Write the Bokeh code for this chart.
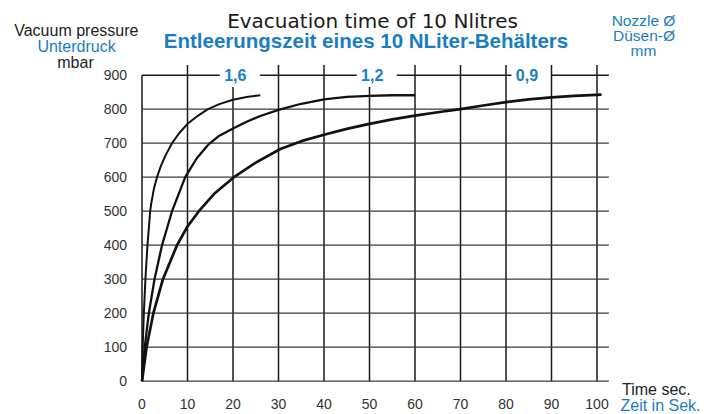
from bokeh.plotting import figure
from bokeh.models import LinearAxis, FixedTicker, Label
from bokeh.embed import file_html
from bokeh.resources import INLINE
from bokeh.core.properties import value

# ---------------- data ----------------
time_16 = [0, 0.15, 0.4, 0.75, 1.2, 1.8, 2.0, 2.6, 3.3, 4.2, 5.2, 6.6, 8.2, 10.0, 12.0, 14.5, 17.0, 20.0, 23.0, 26.0]
pres_16 = [0, 100, 200, 300, 400, 500, 520, 565, 600, 635, 665, 700, 730, 757, 778, 800, 815, 828, 836, 841]

time_12 = [0, 0.6, 1.5, 2.75, 4.4, 6.6, 9.5, 12.0, 14.5, 17.0, 20.0, 23.0, 26.0, 30.0, 35.0, 40.0, 45.0, 50.0, 55.0, 60.0]
pres_12 = [0, 100, 200, 300, 400, 500, 600, 655, 695, 722, 743, 763, 780, 798, 816, 829, 836, 839, 841, 841]

time_09 = [0, 1.0, 2.5, 4.6, 7.7, 10.0, 12.5, 16.0, 20.2, 25.0, 30.4, 35.0, 40.0, 45.0, 50.0, 55.0, 60.0,
           65.0, 70.0, 75.0, 80.0, 85.0, 90.0, 95.0, 101.0]
pres_09 = [0, 100, 200, 300, 400, 455, 500, 553, 600, 643, 683, 706, 725, 742, 757, 770, 781,
           791, 800, 811, 821, 829, 835, 839, 843]

nozzles = ["1,6", "1,2", "0,9"]
nozzle_label_x = [20.5, 50.6, 84.6]

x_ticks = [0, 10, 20, 30, 40, 50, 60, 70, 80, 90, 100]
y_ticks = [0, 100, 200, 300, 400, 500, 600, 700, 800, 900]

# ---------------- layout ----------------
W, H = 716, 414
CX0, SX = 141.5, 4.55     # canvas x of t=0, px per second
CY0, SY = 380.7, 0.34     # canvas y of p=0, px per mbar
x_start, x_end = -CX0 / SX, (W - CX0) / SX
y_start, y_end = -(H - CY0) / SY, CY0 / SY


def dx(cx):
    return (cx - CX0) / SX


def dy(cy):
    return (CY0 - cy) / SY


BLUE = "#1a7dc4"
DARK = "#222222"
FONT = "Liberation Sans"

p = figure(width=W, height=H, x_range=(x_start, x_end), y_range=(y_start, y_end),
           output_backend="svg", toolbar_location=None, tools="",
           x_axis_location=None, y_axis_location=None, min_border=0)
p.outline_line_color = None
p.background_fill_color = "white"
p.border_fill_color = "white"
p.grid.visible = False

# ---------------- grid ----------------
gap_l, gap_r = 3.4, 5.4
x_top = x_ticks[-1] + 2.6
y_top = y_ticks[-1] + 30
y_under = y_ticks[-1] - 35
vx = x_ticks[1:]
v_top = [y_under if any(nx - gap_l < v < nx + gap_r for nx in nozzle_label_x) else y_top for v in vx]
p.segment(x0=vx, y0=[y_ticks[0]] * len(vx), x1=vx, y1=v_top,
          line_color="#1a1a1a", line_width=1.5)
p.segment(x0=[x_ticks[0]], y0=[y_ticks[0]], x1=[x_ticks[0]], y1=[y_ticks[-1]],
          line_color="#1a1a1a", line_width=1.5)
hy = y_ticks[:-1]
p.segment(x0=[x_ticks[0]] * len(hy), y0=hy, x1=[x_top] * len(hy), y1=hy,
          line_color="#3a3a3a", line_width=1.2)

# top line interrupted by nozzle labels
starts = [x_ticks[0]] + [nx + gap_r for nx in nozzle_label_x]
ends = [nx - gap_l for nx in nozzle_label_x] + [x_top]
p.segment(x0=starts, y0=[y_ticks[-1]] * len(starts), x1=ends, y1=[y_ticks[-1]] * len(ends),
          line_color="#1a1a1a", line_width=1.4)

p.text(x=nozzle_label_x, y=[y_ticks[-1]] * len(nozzles), text=nozzles,
       text_align="center", text_baseline="middle", text_color=BLUE,
       text_font=value(FONT), text_font_style="bold", text_font_size="16px")

# ---------------- curves ----------------
p.line(time_16, pres_16, line_color="#111111", line_width=2.0, line_join="round")
p.line(time_12, pres_12, line_color="#111111", line_width=2.3, line_join="round")
p.line(time_09, pres_09, line_color="#111111", line_width=2.7, line_join="round")

# ---------------- axes ----------------
yax = LinearAxis(fixed_location=0, ticker=FixedTicker(ticks=y_ticks))
xax = LinearAxis(fixed_location=0, ticker=FixedTicker(ticks=x_ticks))
for ax in (xax, yax):
    ax.axis_line_color = None
    ax.major_tick_line_color = None
    ax.minor_tick_line_color = None
    ax.major_tick_out = 0
    ax.major_tick_in = 0
    ax.major_label_text_font = FONT
    ax.major_label_text_font_size = "14px"
    ax.major_label_text_color = "#333333"
yax.major_label_standoff = 15
xax.major_label_standoff = 18
p.add_layout(yax, "left")
p.add_layout(xax, "below")

# ---------------- texts ----------------
def add_label(text, cx, cy, color, size, align="center", style="normal", font=FONT):
    px = float(size.replace("px", ""))
    p.add_layout(Label(x=dx(cx), y=dy(cy - 0.35 * px), text=text, text_align=align,
                       text_baseline="alphabetic", text_color=color,
                       text_font=font, text_font_size=size, text_font_style=style))


add_label("Evacuation time of 10 Nlitres", 372, 27, "#1a1a1a", "20px", font="DejaVu Sans")
add_label("Entleerungszeit eines 10 NLiter-Behälters", 365.5, 46.7, BLUE, "20.5px", style="bold")

add_label("Vacuum pressure", 75.8, 36, DARK, "16px")
add_label("Unterdruck", 76, 51.7, BLUE, "16px")
add_label("mbar", 75, 67.5, DARK, "16px")

add_label("Nozzle Ø", 643, 25, BLUE, "15.5px")
add_label("Düsen-Ø", 643.5, 40.5, BLUE, "15.5px")
add_label("mm", 643, 55.5, BLUE, "15.5px")

add_label("Time sec.", 621.5, 394.3, DARK, "16px", align="left")
add_label("Zeit in Sek.", 620, 411, BLUE, "16px", align="left")

open("out.html", "w").write(file_html(p, INLINE))
